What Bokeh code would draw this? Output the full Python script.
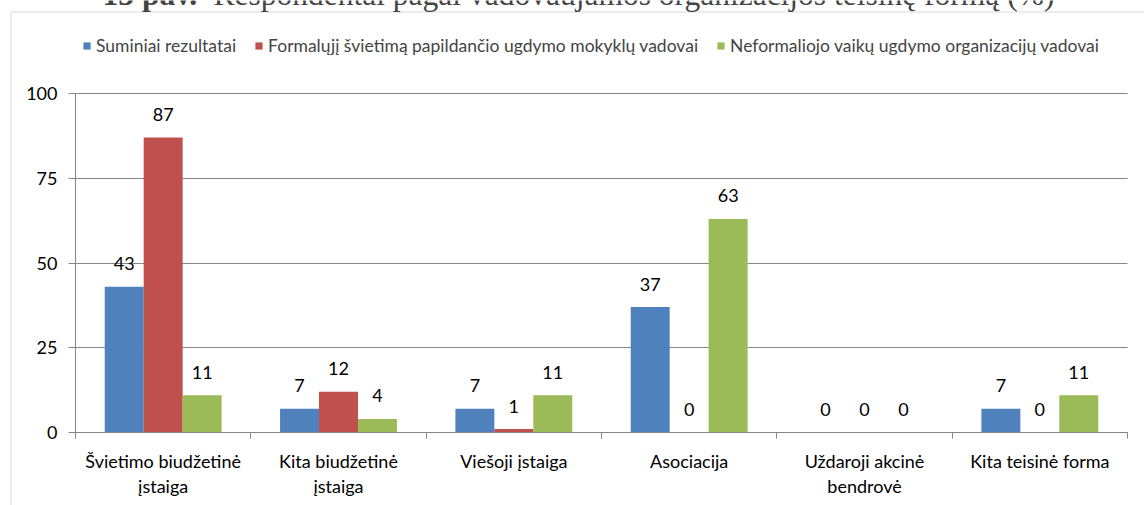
from bokeh.plotting import figure
from bokeh.models import (ColumnDataSource, FixedTicker, Legend, LegendItem,
                          LabelSet, Label, BoxAnnotation, Range1d)
from bokeh.transform import dodge
from bokeh.core.properties import value
from bokeh.embed import file_html
from bokeh.resources import INLINE

# ---------------- data ----------------
categories = ["Švietimo biudžetinė\nįstaiga", "Kita biudžetinė\nįstaiga", "Viešoji įstaiga",
              "Asociacija", "Uždaroji akcinė\nbendrovė", "Kita teisinė forma"]
series_names = ["Suminiai rezultatai",
                "Formalųjį švietimą papildančio ugdymo mokyklų vadovai",
                "Neformaliojo vaikų ugdymo organizacijų vadovai"]
suminiai = [43, 7, 7, 37, 0, 7]
formalusis = [87, 12, 1, 0, 0, 0]
neformalusis = [11, 4, 11, 63, 0, 11]
y_ticks = [0, 25, 50, 75, 100]
title_bold = "13 pav."
title_rest = "Respondentai pagal vadovaujamos organizacijos teisinę formą (%)"

colors = ["#4F81BD", "#C0504D", "#9BBB59"]
FONT = "Lato"
FS = "18px"
GRID = "#868686"
W, H = 1144, 505

n = len(categories)
centers = [i + 0.5 for i in range(n)]
src = ColumnDataSource(dict(
    x=centers,
    s0=suminiai, s1=formalusis, s2=neformalusis,
    t0=[str(v) for v in suminiai],
    t1=[str(v) for v in formalusis],
    t2=[str(v) for v in neformalusis],
))

# The frame covers the whole canvas; the plot area maps x 0..n -> 75..1127 px and
# y 0..100 -> 432..93 px, so the legend, title and outer border live inside the frame.
PL, PR, PT, PB = 75, 1127, 93, 432
xpu = (PR - PL) / n
ypu = (PB - PT) / 100
x_range = Range1d(-PL / xpu, n + (W - PR) / xpu)
y_range = Range1d(-(H - PB) / ypu, 100 + PT / ypu)

p = figure(width=W, height=H, output_backend="svg", toolbar_location=None,
           x_range=x_range, y_range=y_range,
           min_border_left=0, min_border_right=0, min_border_top=0, min_border_bottom=0)
p.outline_line_color = None
p.background_fill_color = "white"
p.border_fill_color = "white"

bw = 1 / 4.5
offsets = [-bw, 0, bw]
renderers = []
for i, (col, off) in enumerate(zip(colors, offsets)):
    r = p.vbar(x=dodge("x", off, range=p.x_range), top="s%d" % i, width=bw,
               source=src, fill_color=col, line_color=None)
    renderers.append(r)
    lbl = LabelSet(x=dodge("x", off, range=p.x_range), y="s%d" % i, text="t%d" % i,
                   source=src, y_offset=23, text_align="center", text_baseline="middle",
                   text_font=value(FONT), text_font_size=FS, text_color="black")
    p.add_layout(lbl)

# axes (fixed inside the frame at the plot-area edges)
p.xaxis.fixed_location = 0
p.xaxis.bounds = (0, n)
p.xaxis.ticker = FixedTicker(ticks=centers, minor_ticks=list(range(n + 1)))
p.xaxis.major_label_overrides = {c: lab for c, lab in zip(centers, categories)}
p.xaxis.major_tick_out = 0
p.xaxis.major_tick_in = 0
p.xaxis.minor_tick_out = 6
p.xaxis.minor_tick_in = 0
p.xaxis.minor_tick_line_color = GRID
p.xaxis.axis_line_color = GRID
p.xaxis.major_label_standoff = 11
p.xaxis.major_label_text_font = FONT
p.xaxis.major_label_text_font_size = FS
p.xaxis.major_label_text_color = "black"
p.xaxis.major_label_text_line_height = 1.15

p.yaxis.fixed_location = 0
p.yaxis.bounds = (0, 100)
p.yaxis.ticker = FixedTicker(ticks=y_ticks)
p.yaxis.major_tick_out = 7
p.yaxis.major_tick_in = 0
p.yaxis.minor_tick_line_color = None
p.yaxis.major_tick_line_color = GRID
p.yaxis.axis_line_color = GRID
p.yaxis.major_label_standoff = 11
p.yaxis.major_label_text_font = FONT
p.yaxis.major_label_text_font_size = FS
p.yaxis.major_label_text_color = "black"

p.xgrid.grid_line_color = None
p.ygrid.grid_line_color = GRID
p.ygrid.bounds = (0, 100)
if "cross_bounds" in p.ygrid[0].properties():
    p.ygrid.cross_bounds = (0, n)

# legend above the bars
items = [LegendItem(label=nm, renderers=[r]) for nm, r in zip(series_names, renderers)]
legend = Legend(items=items, orientation="horizontal", location=(82, 449),
                glyph_width=9, glyph_height=9, label_standoff=5, spacing=18,
                padding=0, margin=0, border_line_color=None, background_fill_alpha=0,
                label_text_font=FONT, label_text_font_size="17.5px",
                label_height=9, click_policy="none")
p.add_layout(legend)

# outer chart border (left and top edges; right/bottom lie outside the picture)
p.add_layout(BoxAnnotation(left=10.5, right=W + 50, top=H - 11.5, bottom=-50,
                           left_units="screen", right_units="screen",
                           top_units="screen", bottom_units="screen",
                           fill_alpha=0, fill_color=None, line_color=GRID, line_width=1))

# title (cut off at the top as in the reference)
for txt, x0, style in [(title_bold, 102, "bold"), (title_rest, 213, "normal")]:
    p.add_layout(Label(x=x0, y=H - 8 + 14, x_units="screen", y_units="screen", text=txt,
                       text_font="Liberation Serif", text_font_style=style,
                       text_font_size="31.5px", text_baseline="alphabetic"))

open("out.html", "w").write(file_html(p, INLINE))
